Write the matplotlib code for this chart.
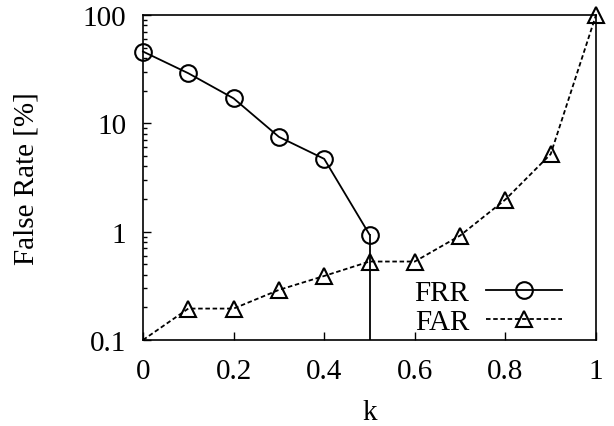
import matplotlib
matplotlib.use('Agg')
import matplotlib.pyplot as plt
from matplotlib.ticker import FixedLocator, LogLocator, NullFormatter

plt.rcParams['font.family'] = ['Liberation Serif', 'DejaVu Serif']
plt.rcParams['font.size'] = 21

# data
k = [0.0, 0.1, 0.2, 0.3, 0.4, 0.5, 0.6, 0.7, 0.8, 0.9, 1.0]
frr_k = [0.0, 0.1, 0.2, 0.3, 0.4, 0.5, 0.5]
frr = [46.0, 29.0, 17.0, 7.5, 4.7, 0.94, 0.0]
far = [0.1, 0.195, 0.195, 0.29, 0.39, 0.53, 0.53, 0.92, 1.98, 5.2, 100.0]
x_ticks = [0, 0.2, 0.4, 0.6, 0.8, 1]
x_tick_labels = ['0', '0.2', '0.4', '0.6', '0.8', '1']
y_ticks = [0.1, 1, 10, 100]
y_tick_labels = ['0.1', '1', '10', '100']

fig = plt.figure(figsize=(6.14, 4.27), dpi=100)
ax = fig.add_axes([143 / 614, 1 - 341 / 427, 453 / 614, 325 / 427])

ax.set_yscale('log', nonpositive='clip')
# FRR drops to zero after k=0.5 -> vertical drop, clipped at the axes
ax.plot(frr_k[-2:], frr[-2:], color='black', linewidth=1.3)
ax.plot(frr_k[:-1], frr[:-1], color='black', linewidth=1.3, marker='o',
        markersize=12, markerfacecolor='none', markeredgewidth=1.5,
        label='FRR', clip_on=False)
ax.plot(k, far, color='black', linewidth=1.3, linestyle=(0, (2.5, 1.5)),
        marker='^', markersize=12, markerfacecolor='none', markeredgewidth=1.5,
        markevery=list(range(1, len(k))), label='FAR', clip_on=False)

ax.set_xlim(0, 1)
ax.set_ylim(0.1, 100)
ax.xaxis.set_major_locator(FixedLocator(x_ticks))
ax.set_xticklabels(x_tick_labels)
ax.yaxis.set_major_locator(FixedLocator(y_ticks))
ax.set_yticklabels(y_tick_labels)
ax.yaxis.set_minor_locator(LogLocator(base=10, subs=range(2, 10)))
ax.yaxis.set_minor_formatter(NullFormatter())
ax.tick_params(which='major', direction='in', length=6, width=1)
ax.tick_params(which='minor', direction='in', length=3, width=1)
ax.tick_params(axis='x', pad=13)
ax.tick_params(axis='y', pad=12)
for s in ax.spines.values():
    s.set_linewidth(1.2)

ax.set_xlabel('k', labelpad=11)
ax.set_ylabel('False Rate [%]', labelpad=31)

ax.legend(loc='lower right', frameon=False, markerfirst=False, handlelength=2.6,
          handletextpad=0.58, labelspacing=0.1, borderpad=0, borderaxespad=0,
          bbox_to_anchor=(0.925, 0.015))

fig.savefig('out.png', dpi=100)
